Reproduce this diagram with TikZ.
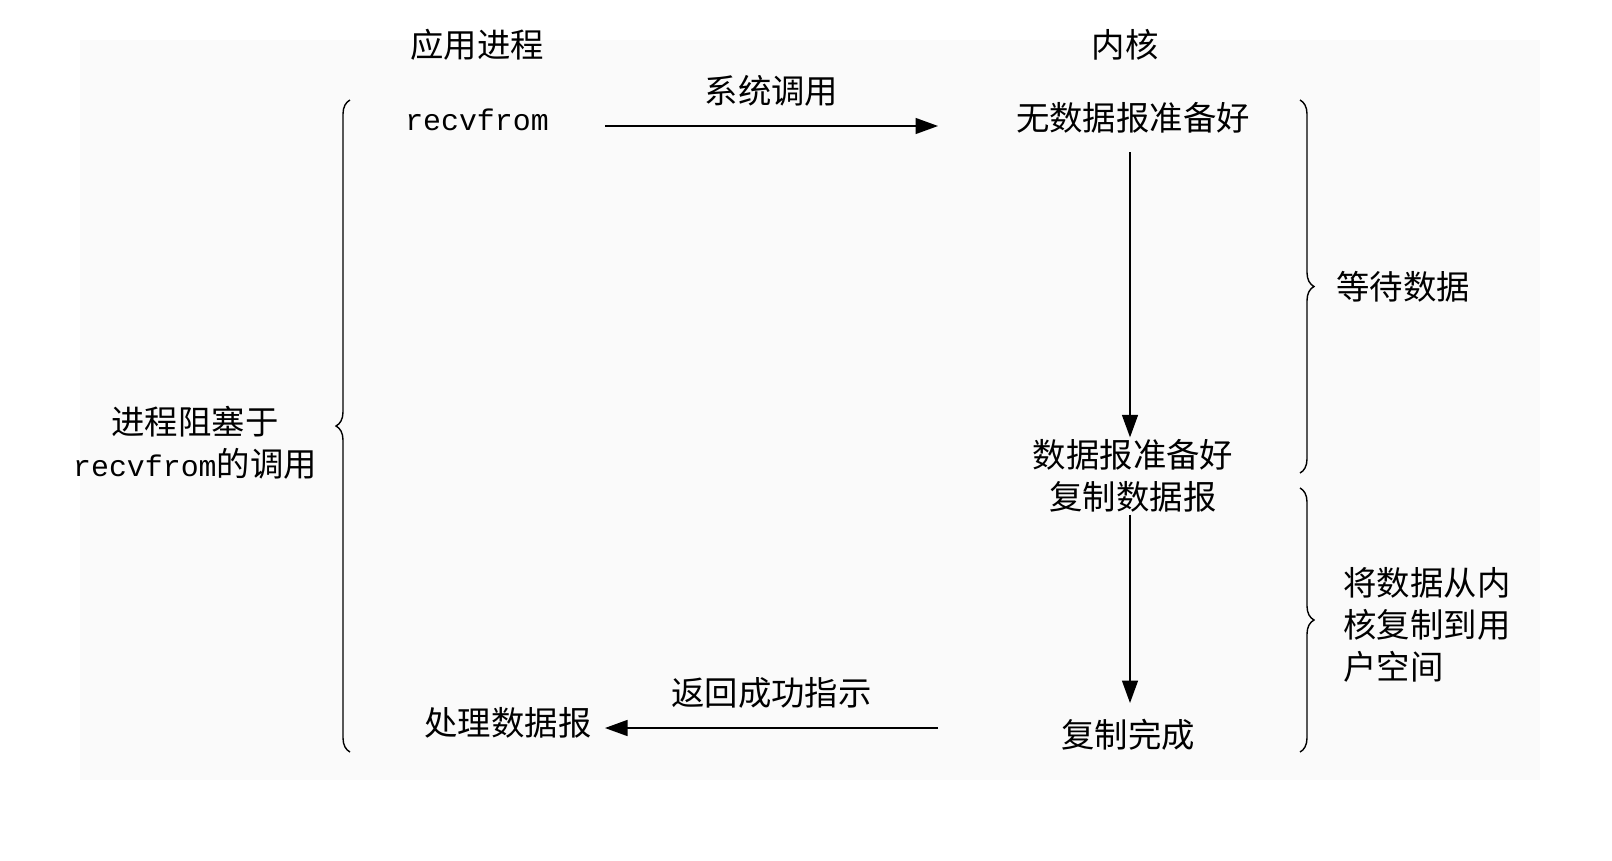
\documentclass[tikz,border=0pt]{standalone}
\usepackage{fontspec}
\setmainfont{Noto Sans CJK SC}
\setmonofont{Liberation Mono}
\usetikzlibrary{arrows.meta,decorations.pathreplacing}
\tikzset{
  lbl/.style={font=\fontsize{19}{24}\selectfont, inner sep=1pt},
  flow/.style={line width=0.8pt, -{Triangle[length=0.45cm,width=0.32cm]}},
  brc/.style={line width=0.8pt, decorate, decoration={brace, amplitude=0.28cm}}
}
\begin{document}
\begin{tikzpicture}[x=0.02cm, y=-0.02cm]
        \useasboundingbox (0,0) rectangle (1612,860);
        \fill[black!2] (80,40) rectangle (1540,780);
        \node[lbl] (app) at (477,45) {应用进程};
        \node[lbl] (kern) at (1125,45) {内核};
        \node[lbl, font=\fontsize{17}{24}\ttfamily] (recv) at (477,120) {recvfrom};
        \node[lbl] (nodata) at (1133,118) {无数据报准备好};
        \node[lbl, align=center] (ready) at (1133,476) {数据报准备好\\复制数据报};
        \node[lbl] (done) at (1128,735) {复制完成};
        \node[lbl] (proc) at (508,723) {处理数据报};
        \node[lbl, align=center] (block) at (195,443) {进程阻塞于\\{\fontsize{17}{24}\ttfamily recvfrom}的调用};
        \node[lbl] (wait) at (1403,287) {等待数据};
        \node[lbl, align=left] (copy) at (1427,625) {将数据从内\\核复制到用\\户空间};
        \coordinate (c1) at (605,126);
        \coordinate (c2) at (938,126);
        \coordinate (c3) at (938,728);
        \coordinate (c4) at (605,728);
        \draw[flow] (c1) to node[lbl, above=0.35cm] (syscall) {系统调用} (c2);
        \draw[flow] (c3) to node[lbl, above=0.35cm] (ret) {返回成功指示} (c4);
        \draw[flow] (1130,152) to (ready.north -| 1130,0);
        \draw[flow] (ready.south -| 1130,0) to (1130,703);
        \draw[brc] (350,752) to (350,100);
        \draw[brc] (1300,100) to (1300,473);
        \draw[brc] (1300,488) to (1300,752);
\end{tikzpicture}
\end{document}
